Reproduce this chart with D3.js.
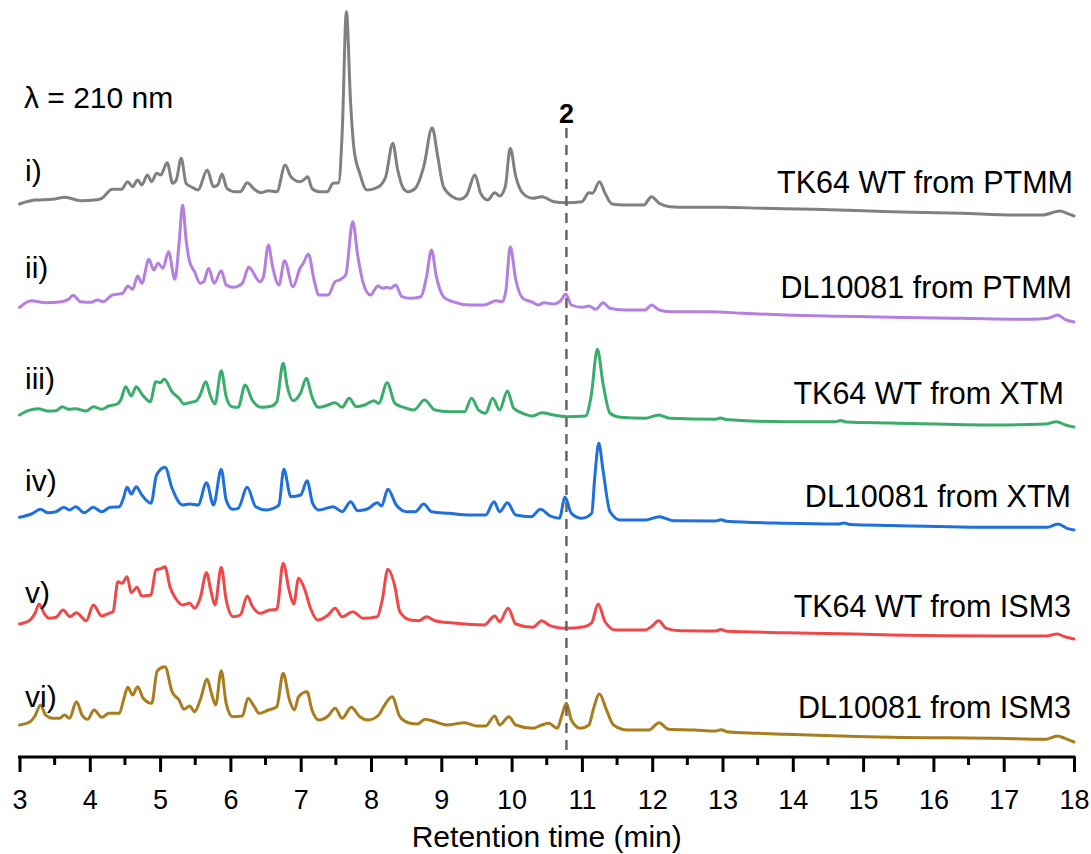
<!DOCTYPE html>
<html>
<head>
<meta charset="utf-8">
<script src="https://cdn.jsdelivr.net/npm/d3@7"></script>
<style>
  body { margin: 0; background: #fff; }
  svg text { font-family: "Liberation Sans", Arial, sans-serif; fill: #000; }
  .trace { fill: none; stroke-width: 3; stroke-linejoin: round; stroke-linecap: round; }
</style>
</head>
<body>
<script>
// retention time (min), absorbance above each trace's own baseline
var traceI = [[3.00,12],[3.22,16],[3.47,16.7],[3.65,18.7],[3.87,15.3],[4.07,16],[4.17,17.7],[4.32,26.7],[4.45,26.7],[4.54,34.3],[4.61,29.3],[4.68,36],[4.74,31],[4.82,41],[4.88,34.3],[4.95,42.7],[5.01,41],[5.10,53.3],[5.18,32.7],[5.23,36],[5.30,57.7],[5.37,32.7],[5.44,29.3],[5.54,26],[5.67,46],[5.76,29.3],[5.82,31],[5.88,42],[5.95,27.7],[6.07,24.3],[6.14,24.3],[6.24,33.3],[6.34,26.7],[6.44,23.3],[6.54,25.3],[6.66,24.3],[6.78,51],[6.86,39.3],[6.99,34.3],[7.04,36],[7.10,39.3],[7.16,27.7],[7.26,24.3],[7.38,24.3],[7.46,32.7],[7.54,33.3],[7.59,83],[7.65,204.3],[7.71,113],[7.76,66],[7.84,42.7],[7.94,26],[8.06,27.7],[8.14,31],[8.21,39.3],[8.31,72.7],[8.38,46],[8.46,27.7],[8.53,24.3],[8.63,27.7],[8.75,49.3],[8.87,88.3],[8.95,59.3],[9.03,29.3],[9.16,19.3],[9.26,16.7],[9.36,21],[9.48,41],[9.56,22.7],[9.66,16],[9.76,23.3],[9.83,20],[9.91,29.3],[9.98,67.7],[10.06,39.3],[10.16,22.7],[10.30,17.7],[10.43,19.3],[10.60,14.3],[10.77,13.3],[11.00,14.3],[11.10,23.3],[11.15,22.7],[11.25,34.3],[11.33,22.7],[11.43,12],[11.60,11],[11.88,11],[11.99,19.3],[12.10,12.7],[12.25,9.3],[12.50,8.7],[13.00,8.7],[13.60,7.7],[14.30,6.7],[15.40,4.3],[16.40,2.7],[17.15,1],[17.55,1],[17.80,5],[17.90,2.7],[18.00,0]];

var traceII = [[3.00,14.7],[3.17,21.3],[3.37,19.3],[3.60,20.3],[3.70,22.7],[3.76,26.7],[3.87,20.3],[4.02,19.7],[4.11,22],[4.19,20.3],[4.32,27],[4.47,28.7],[4.54,36],[4.61,32.7],[4.68,46],[4.74,38.7],[4.84,62.7],[4.91,52],[4.97,58.7],[5.04,53.7],[5.12,70.3],[5.21,42.7],[5.27,78.7],[5.32,117],[5.37,82],[5.42,60.3],[5.49,50.3],[5.57,38.7],[5.62,40.3],[5.69,53.7],[5.77,38.7],[5.87,51.3],[5.94,37],[6.04,34.7],[6.17,38.7],[6.26,54.7],[6.42,40.3],[6.47,45.3],[6.54,77],[6.60,55.3],[6.69,37],[6.77,61.3],[6.89,35.3],[6.99,53.7],[7.04,59.3],[7.11,68],[7.19,42],[7.26,27],[7.39,27],[7.49,40.3],[7.55,42],[7.64,47],[7.74,100.3],[7.81,67],[7.89,38.7],[7.99,27],[8.10,36],[8.16,33.7],[8.23,34.7],[8.28,33.7],[8.35,37],[8.44,25.3],[8.56,23.7],[8.71,25.3],[8.79,45.3],[8.86,72],[8.93,45.3],[9.03,25.3],[9.16,20.3],[9.41,17],[9.61,17],[9.78,21.3],[9.87,20.3],[9.92,32],[9.98,75.3],[10.06,42],[10.16,23.7],[10.28,20.3],[10.38,17],[10.46,19.3],[10.60,18],[10.70,21.3],[10.77,28],[10.85,17],[11.00,14.7],[11.10,16],[11.20,12.7],[11.30,19.3],[11.40,13.7],[11.60,12],[11.90,12],[11.99,17],[12.10,12],[12.25,10.3],[12.80,10.3],[13.30,8.7],[13.90,7],[14.70,5.7],[15.40,4.7],[16.40,3.7],[17.40,2.7],[17.63,3.7],[17.77,7],[17.87,2.7],[18.00,0]];

var traceIII = [[3.00,12],[3.12,16.3],[3.27,18.3],[3.40,16],[3.52,16.3],[3.61,20.3],[3.70,17.7],[3.80,18.3],[3.95,16],[4.05,20.3],[4.17,17.7],[4.27,21],[4.39,23],[4.44,27],[4.51,40.3],[4.59,31],[4.66,40.3],[4.74,33],[4.86,25.3],[4.94,45.3],[5.00,44.3],[5.06,47.7],[5.17,35.3],[5.27,28.7],[5.34,23],[5.42,24.3],[5.52,26.3],[5.57,32],[5.65,45.3],[5.72,30.3],[5.78,23],[5.87,56.3],[5.94,30.3],[6.02,20.3],[6.11,19.7],[6.21,42],[6.31,27],[6.44,19.7],[6.59,21],[6.66,25.3],[6.75,63.7],[6.81,40.3],[6.89,26.3],[7.00,34.3],[7.08,48.7],[7.16,30.3],[7.25,19.7],[7.39,22],[7.49,24.3],[7.59,19.7],[7.69,28.7],[7.79,20.3],[7.91,22],[8.04,26.3],[8.11,23.7],[8.23,44.3],[8.34,23.7],[8.46,19.7],[8.61,17],[8.76,27],[8.91,17],[9.11,15.3],[9.33,15.3],[9.43,28.7],[9.53,17],[9.63,13.7],[9.73,28.7],[9.83,17],[9.94,36],[10.03,18.7],[10.16,13.7],[10.30,11],[10.43,14.3],[10.60,12],[10.78,10.3],[11.05,11],[11.13,30.3],[11.22,77.7],[11.30,43.7],[11.40,13.7],[11.55,9.7],[11.90,8.7],[12.09,12],[12.25,8.7],[12.90,7.7],[12.97,9],[13.05,7.5],[13.90,5.3],[14.60,5.3],[14.68,6.5],[14.76,5],[15.40,4],[16.90,2],[17.60,3],[17.75,5.3],[17.88,2],[18.00,0]];

var traceIV = [[3.00,12.7],[3.17,16],[3.30,20.7],[3.40,17.3],[3.52,18.3],[3.63,22.7],[3.71,20],[3.80,23.3],[3.92,17.3],[4.05,22.7],[4.17,18.3],[4.29,22.7],[4.42,23.3],[4.47,30],[4.53,42.7],[4.59,36],[4.66,43.3],[4.74,35],[4.87,26.7],[4.95,55],[5.07,62.7],[5.17,41.7],[5.32,25],[5.42,26],[5.54,25],[5.66,47.3],[5.76,25],[5.87,60.7],[5.94,30],[6.03,20.7],[6.11,21.7],[6.24,42.7],[6.36,23.3],[6.51,20],[6.61,21.7],[6.69,25],[6.76,60.7],[6.86,33.3],[7.00,35],[7.09,49.3],[7.17,26.7],[7.26,20],[7.46,23.3],[7.59,18.3],[7.71,28.3],[7.81,19.3],[7.94,20.7],[8.09,27.3],[8.15,24],[8.24,40.7],[8.36,25],[8.51,18.3],[8.63,18.3],[8.75,26],[8.86,18.3],[9.11,16.7],[9.41,15],[9.63,15],[9.75,28.3],[9.83,18.3],[9.94,27.3],[10.06,15],[10.28,13.3],[10.41,20.7],[10.55,14],[10.68,11.7],[10.76,32.7],[10.85,16.7],[11.00,11.7],[11.14,16.7],[11.18,50],[11.24,86.7],[11.30,60],[11.40,18.3],[11.55,10],[11.90,10],[12.10,13.3],[12.30,9.3],[12.90,9],[12.98,10.3],[13.06,8.7],[13.90,6.7],[14.65,6],[14.73,7],[14.81,5.5],[15.40,4.5],[16.90,2.7],[17.62,2.7],[17.77,6],[17.90,1.7],[18.00,0]];

var traceV = [[3.00,15],[3.15,19],[3.22,25.7],[3.28,35],[3.35,25.7],[3.42,20.7],[3.52,21.7],[3.62,29],[3.72,22.3],[3.81,26.3],[3.95,18.3],[4.05,34],[4.17,23],[4.27,25.7],[4.33,27.3],[4.40,57.3],[4.46,55.7],[4.53,62.3],[4.59,46.3],[4.67,51.7],[4.74,43],[4.87,44],[4.94,69],[5.02,70.7],[5.07,72.3],[5.14,52.3],[5.22,40.7],[5.32,34],[5.42,35.7],[5.49,30.7],[5.57,40.7],[5.66,66.3],[5.72,49],[5.78,34],[5.87,71.7],[5.94,39],[6.04,22.3],[6.14,24],[6.24,43],[6.31,33],[6.42,25.7],[6.56,29],[6.66,29.7],[6.75,75.7],[6.84,47.3],[6.90,35],[6.97,60.7],[7.06,49],[7.14,30.7],[7.24,19],[7.39,24],[7.49,30.7],[7.59,22.3],[7.74,27.3],[7.89,20.7],[8.09,22.3],[8.16,39],[8.24,69.7],[8.34,52.3],[8.41,27.3],[8.56,19],[8.68,18.3],[8.79,22.3],[8.91,18.3],[9.21,15.7],[9.61,14],[9.76,23],[9.83,17.3],[9.95,30.7],[10.06,15],[10.30,11.7],[10.43,18.3],[10.53,14],[10.60,12.3],[10.78,10.7],[11.03,12.3],[11.14,16.3],[11.23,35],[11.33,17.3],[11.48,9],[11.90,9],[12.00,13],[12.09,18.3],[12.20,10.7],[12.40,8.3],[12.90,8],[12.98,9.5],[13.06,7.7],[13.90,6.3],[14.70,5.3],[15.40,4],[16.90,3],[17.60,3],[17.76,5],[17.87,2.3],[18.00,0]];

var traceVI = [[3.00,17],[3.15,20.3],[3.22,26],[3.30,37],[3.37,27],[3.47,23.7],[3.57,23.7],[3.64,27],[3.71,23.7],[3.81,40.3],[3.89,27],[3.97,22.7],[4.06,32],[4.17,24.7],[4.27,28.7],[4.42,28.7],[4.48,42],[4.54,54.7],[4.61,47],[4.68,55.3],[4.76,43.7],[4.88,38.7],[4.96,71.3],[5.07,75.3],[5.17,50.3],[5.27,42],[5.34,32.7],[5.42,36],[5.49,30.3],[5.57,42],[5.67,62.7],[5.73,48.7],[5.79,37],[5.87,71.3],[5.94,38.7],[6.03,25.3],[6.17,26],[6.25,43.7],[6.34,35.3],[6.41,28.7],[6.54,32],[6.66,35.3],[6.75,68.7],[6.84,42],[6.91,32],[6.97,45.3],[7.09,50.3],[7.16,32],[7.26,22],[7.39,26],[7.49,33.7],[7.59,23.7],[7.72,34.7],[7.84,25.3],[7.96,22],[8.11,27],[8.18,35.3],[8.30,45.3],[8.41,25.3],[8.53,19.3],[8.66,18],[8.77,22.7],[8.91,20.3],[9.08,17],[9.33,19.3],[9.51,16],[9.63,16],[9.76,26],[9.83,17],[9.96,25.3],[10.06,17],[10.30,13.7],[10.43,17],[10.53,18.7],[10.65,13.7],[10.71,25.3],[10.78,38.7],[10.85,22],[10.98,13.7],[11.10,17],[11.16,32],[11.25,48],[11.35,32],[11.45,17],[11.65,12],[11.95,12],[12.10,19.3],[12.23,12.7],[12.60,12],[12.90,11],[12.98,12.3],[13.06,10.3],[13.50,8.7],[13.90,7.7],[14.70,6],[15.40,4.7],[16.90,3.7],[17.60,2.7],[17.76,6],[17.87,3.7],[18.00,0]];

var traces = [traceI, traceII, traceIII, traceIV, traceV, traceVI];
var offsets = [541, 435, 330, 227, 118, 15];   // stacking offset of each trace
var numerals = ['i)', 'ii)', 'iii)', 'iv)', 'v)', 'vi)'];
var samples = ['TK64 WT from PTMM', 'DL10081 from PTMM', 'TK64 WT from XTM',
               'DL10081 from XTM', 'TK64 WT from ISM3', 'DL10081 from ISM3'];
var colors = ['#808080', '#b47fe0', '#3aad6c', '#1f6fdc', '#f04848', '#a87d1e'];
var xTicks = d3.range(3, 19, 1);
var xMinor = d3.range(3.5, 18, 1);
var compound2 = 10.78;   // retention time of compound 2

var W = 1091, H = 854;
var svg = d3.select('body').append('svg')
    .attr('width', W)
    .attr('height', H);

var x = d3.scaleLinear().domain([3, 18]).range([19.5, 1074]);
var y = d3.scaleLinear().domain([0, 750]).range([757, 7]);

// traces
traces.forEach(function(tr, i){
  var line = d3.line()
      .x(function(d){ return x(d[0]); })
      .y(function(d){ return y(d[1] + offsets[i]); })
      .curve(d3.curveMonotoneX);
  svg.append('path')
     .datum(tr)
     .attr('class', 'trace')
     .attr('stroke', colors[i])
     .attr('d', line);
});

// dashed marker for compound 2
svg.append('line')
   .attr('x1', x(compound2)).attr('x2', x(compound2))
   .attr('y1', 128).attr('y2', y(0))
   .attr('stroke', '#666')
   .attr('stroke-width', 2.5)
   .attr('stroke-dasharray', '10,7');

svg.append('text')
   .attr('x', x(compound2))
   .attr('y', 123)
   .attr('text-anchor', 'middle')
   .style('font-size', '27px')
   .style('font-weight', 'bold')
   .text('2');

// x axis
var xAxis = d3.axisBottom(x)
    .tickValues(xTicks)
    .tickSize(15)
    .tickPadding(18)
    .tickFormat(d3.format('d'));

var gx = svg.append('g')
   .attr('transform', 'translate(0,' + y(0) + ')')
   .call(xAxis);
gx.select('.domain').attr('stroke-width', 3).attr('d', 'M' + (x(3) - 1.5) + ',0H' + (x(18) + 1.5));
gx.selectAll('.tick line').attr('stroke-width', 3);
gx.selectAll('.tick text')
  .style('font-size', '27px')
  .style('font-family', '"Liberation Sans", Arial, sans-serif');

gx.selectAll('.minor')
  .data(xMinor)
  .enter().append('line')
  .attr('x1', function(d){ return x(d); })
  .attr('x2', function(d){ return x(d); })
  .attr('y1', 0).attr('y2', 8)
  .attr('stroke', '#000')
  .attr('stroke-width', 3);

svg.append('text')
   .attr('x', (x(3) + x(18)) / 2)
   .attr('y', 847)
   .attr('text-anchor', 'middle')
   .style('font-size', '30px')
   .text('Retention time (min)');

// wavelength note
svg.append('text')
   .attr('x', 24)
   .attr('y', 108)
   .style('font-size', '30px')
   .text('λ = 210 nm');

// trace labels
var numY = [181, 278, 389, 491, 603, 707];
var sampleY = [193, 298, 404, 507, 617, 718];
var sampleX = [1073, 1072, 1064, 1071, 1071, 1071];

numerals.forEach(function(n, i){
  svg.append('text')
     .attr('x', 25)
     .attr('y', numY[i])
     .style('font-size', '30px')
     .text(n);
  svg.append('text')
     .attr('x', sampleX[i])
     .attr('y', sampleY[i])
     .attr('text-anchor', 'end')
     .style('font-size', '30.5px')
     .text(samples[i]);
});
</script>
</body>
</html>
